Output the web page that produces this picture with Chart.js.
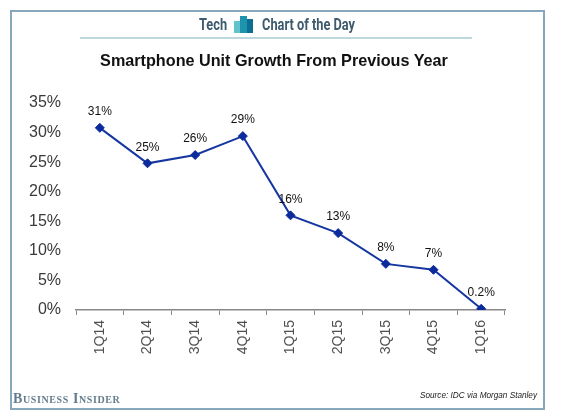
<!DOCTYPE html>
<html lang="en">
<head>
    <meta charset="UTF-8">
    <title>Smartphone Unit Growth From Previous Year</title>
    <script src="https://cdn.jsdelivr.net/npm/chart.js"></script>
    <style>
        body {
            margin: 0;
            background: #fff;
            font-family: Arial, "Liberation Sans", sans-serif;
        }
        #wrap {
            position: relative;
            width: 562px;
            height: 416px;
            overflow: hidden;
        }
        #frame {
            position: absolute;
            left: 10px;
            top: 10px;
            width: 531px;
            height: 396px;
            border: 2px solid #86a8ba;
        }
        #chart {
            position: absolute;
            left: 0;
            top: 0;
        }
        .hdr {
            position: absolute;
            top: 15px;
            font-family: Roboto, sans-serif;
            font-weight: bold;
            font-size: 16px;
            color: #3e5b6e;
            transform: scaleX(0.8);
            transform-origin: left top;
            white-space: nowrap;
        }
        #hline {
            position: absolute;
            left: 80px;
            top: 37px;
            width: 392px;
            height: 2px;
            background: #bcd7de;
        }
        .bar {
            position: absolute;
        }
        #title {
            position: absolute;
            left: 0;
            width: 548px;
            top: 51px;
            text-align: center;
            font-weight: bold;
            font-size: 16.2px;
            color: #111;
        }
        #bi {
            position: absolute;
            left: 13px;
            top: 391px;
            font-family: "Liberation Serif", serif;
            font-variant: small-caps;
            font-weight: bold;
            font-size: 14px;
            color: #637c8d;
            letter-spacing: 0.6px;
        }
        #source {
            position: absolute;
            right: 25px;
            top: 391px;
            font-style: italic;
            font-size: 8.2px;
            color: #222;
        }
    </style>
</head>
<body>
<div id="wrap">
    <canvas id="chart" width="562" height="416"></canvas>
    <div id="frame"></div>
    <div class="hdr" style="left:199px;">Tech</div>
    <div class="bar" style="left:234px; top:21px; width:6px; height:12px; background:#63c3cb;"></div>
    <div class="bar" style="left:240px; top:16px; width:7px; height:17px; background:#1d93ae;"></div>
    <div class="bar" style="left:247px; top:19px; width:6px; height:14px; background:#0d6e93;"></div>
    <div class="hdr" style="left:262px;">Chart of the Day</div>
    <div id="hline"></div>
    <div id="title">Smartphone Unit Growth From Previous Year</div>
    <div id="bi">Business Insider</div>
    <div id="source">Source: IDC via Morgan Stanley</div>
</div>

<script>
    const quarters = ['1Q14', '2Q14', '3Q14', '4Q14', '1Q15', '2Q15', '3Q15', '4Q15', '1Q16'];
    const growth = [30.8, 24.8, 26.2, 29.4, 16.0, 13.0, 7.8, 6.8, 0.2];
    const growthLabels = ['31%', '25%', '26%', '29%', '16%', '13%', '8%', '7%', '0.2%'];

    // writes the value above each point
    const pointLabels = {
        id: 'pointLabels',
        afterDatasetsDraw(chart) {
            const ctx = chart.ctx;
            const meta = chart.getDatasetMeta(0);
            ctx.save();
            ctx.font = '12px Arial, "Liberation Sans", sans-serif';
            ctx.fillStyle = '#111';
            ctx.textAlign = 'center';
            ctx.textBaseline = 'middle';
            meta.data.forEach((pt, i) => {
                ctx.fillText(growthLabels[i], pt.x, pt.y - 16);
            });
            ctx.restore();
        }
    };

    let ctx = document.getElementById('chart').getContext('2d');

    let growthChart = new Chart(ctx, {
        type: 'line',
        data: {
            labels: quarters,
            datasets: [{
                data: growth,
                borderColor: '#1637a0',
                borderWidth: 2,
                pointStyle: 'rectRot',
                pointRadius: 4.5,
                pointBackgroundColor: '#0b2a9c',
                pointBorderColor: '#0b2a9c',
                pointBorderWidth: 1,
                tension: 0,
                fill: false
            }]
        },
        options: {
            responsive: false,
            animation: false,
            layout: {
                padding: { top: 103, right: 57, left: 0, bottom: 0 }
            },
            plugins: {
                legend: { display: false },
                tooltip: { enabled: false }
            },
            scales: {
                x: {
                    offset: true,
                    afterFit: (scale) => { scale.height = 106; },
                    grid: {
                        offset: true,
                        drawOnChartArea: false,
                        drawTicks: true,
                        tickLength: 5,
                        color: '#888'
                    },
                    border: { display: true, color: '#888', width: 1.5 },
                    ticks: {
                        minRotation: 90,
                        maxRotation: 90,
                        padding: 5,
                        color: '#505050',
                        font: { family: 'Arial, "Liberation Sans", sans-serif', size: 14 }
                    }
                },
                y: {
                    min: 0,
                    max: 35,
                    afterFit: (scale) => { scale.width = 76; },
                    grid: { display: false, drawTicks: false },
                    border: { display: false },
                    ticks: {
                        stepSize: 5,
                        padding: 15,
                        color: '#3a3a3a',
                        font: { family: 'Arial, "Liberation Sans", sans-serif', size: 16 },
                        callback: (v) => v + '%'
                    }
                }
            }
        },
        plugins: [pointLabels]
    });
</script>
</body>
</html>
